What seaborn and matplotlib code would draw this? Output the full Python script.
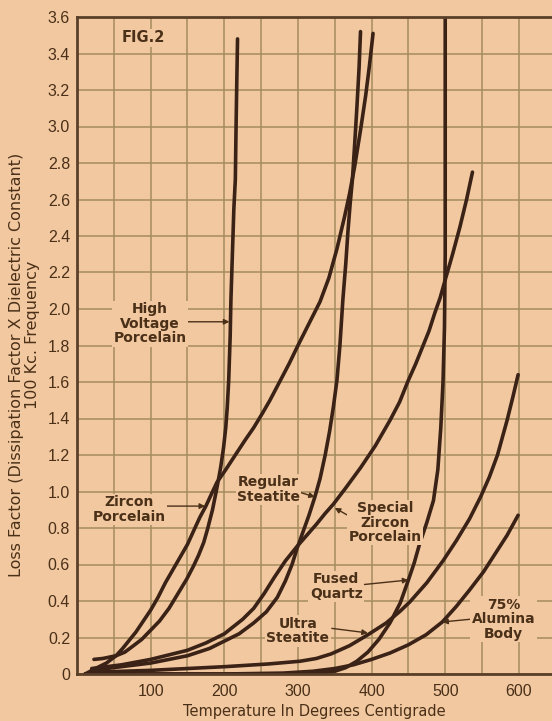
import numpy as np
import pandas as pd
import matplotlib
matplotlib.use("Agg")
import matplotlib.pyplot as plt
import seaborn as sns

# Loss factor (dissipation factor x dielectric constant) at 100 kc vs temperature (deg C)
hv_temp = [23, 35, 53, 65, 75, 88, 100, 112, 125, 137, 149, 158, 165, 172, 177, 184, 190, 195, 199,
           202, 204, 206, 208, 209, 211, 213, 215, 216, 217, 218]
hv_loss = [0.08, 0.085, 0.10, 0.12, 0.15, 0.19, 0.24, 0.29, 0.36, 0.44, 0.52, 0.59, 0.65, 0.72, 0.79,
           0.90, 1.02, 1.13, 1.24, 1.35, 1.46, 1.61, 1.85, 2.05, 2.30, 2.55, 2.71, 3.00, 3.25, 3.48]

zircon_temp = [11, 25, 40, 53, 62, 70, 80, 90, 100, 110, 120, 130, 140, 150, 159, 167, 175, 183, 190,
               202, 215, 228, 240, 252, 262, 275, 288, 300, 315, 330, 342, 353, 363, 370, 377, 385,
               392, 397, 402]
zircon_loss = [0.00, 0.03, 0.06, 0.10, 0.14, 0.18, 0.23, 0.29, 0.35, 0.42, 0.50, 0.57, 0.64, 0.71, 0.79,
               0.86, 0.92, 0.99, 1.05, 1.12, 1.20, 1.28, 1.35, 1.43, 1.50, 1.60, 1.70, 1.80, 1.92, 2.04,
               2.17, 2.33, 2.50, 2.63, 2.78, 2.98, 3.17, 3.33, 3.51]

reg_steatite_temp = [20, 60, 100, 150, 180, 200, 220, 240, 257, 272, 283, 292, 299, 307, 315, 323, 330,
                     337, 343, 348, 353, 357, 361, 365, 368, 371, 374, 377, 380, 383, 385]
reg_steatite_loss = [0.02, 0.04, 0.06, 0.10, 0.14, 0.18, 0.22, 0.28, 0.34, 0.42, 0.51, 0.60, 0.69, 0.78,
                     0.87, 0.97, 1.07, 1.20, 1.33, 1.46, 1.61, 1.80, 2.05, 2.25, 2.43, 2.58, 2.71, 2.90,
                     3.10, 3.32, 3.52]

sp_zircon_temp = [20, 60, 100, 130, 150, 175, 200, 225, 240, 254, 268, 283, 299, 312, 325, 337, 348,
                  365, 385, 405, 425, 438, 450, 460, 469, 478, 486, 493, 500, 510, 520, 529, 537]
sp_zircon_loss = [0.03, 0.05, 0.08, 0.11, 0.13, 0.17, 0.22, 0.30, 0.36, 0.44, 0.53, 0.62, 0.70, 0.76,
                  0.82, 0.88, 0.93, 1.02, 1.13, 1.25, 1.39, 1.49, 1.61, 1.70, 1.79, 1.88, 1.98, 2.06,
                  2.16, 2.30, 2.45, 2.60, 2.75]

quartz_temp = [11, 100, 200, 300, 330, 350, 365, 380, 395, 410, 425, 439, 450, 458, 465, 475, 484, 490,
               494, 497, 499, 500, 500]
quartz_loss = [0.0, 0.0, 0.0, 0.0, 0.005, 0.015, 0.035, 0.07, 0.12, 0.19, 0.28, 0.39, 0.515, 0.61, 0.71,
               0.83, 0.95, 1.12, 1.35, 1.60, 1.90, 2.30, 3.60]

ultra_temp = [25, 100, 200, 260, 303, 325, 345, 370, 395, 420, 439, 452, 475, 497, 515, 533, 548, 560,
              571, 584, 592, 599]
ultra_loss = [0.01, 0.02, 0.04, 0.055, 0.07, 0.085, 0.11, 0.155, 0.215, 0.28, 0.345, 0.395, 0.50, 0.62,
              0.73, 0.85, 0.97, 1.08, 1.20, 1.39, 1.52, 1.64]

alumina_temp = [11, 100, 200, 280, 320, 350, 375, 400, 425, 450, 474, 496, 515, 533, 552, 568, 584, 599]
alumina_loss = [0.0, 0.0, 0.0, 0.005, 0.015, 0.03, 0.05, 0.08, 0.115, 0.16, 0.215, 0.285, 0.37, 0.46,
                0.56, 0.66, 0.76, 0.87]

curves = {
    "High Voltage Porcelain": (hv_temp, hv_loss),
    "Zircon Porcelain": (zircon_temp, zircon_loss),
    "Regular Steatite": (reg_steatite_temp, reg_steatite_loss),
    "Special Zircon Porcelain": (sp_zircon_temp, sp_zircon_loss),
    "Fused Quartz": (quartz_temp, quartz_loss),
    "Ultra Steatite": (ultra_temp, ultra_loss),
    "75% Alumina Body": (alumina_temp, alumina_loss),
}

x_ticks = list(range(0, 601, 50))
x_tick_labels = [str(t) if t % 100 == 0 and t > 0 else "" for t in x_ticks]
y_ticks = [round(0.2 * i, 1) for i in range(19)]
y_tick_labels = ["0"] + [f"{v:.1f}" for v in y_ticks[1:]]

df = pd.concat(
    [pd.DataFrame({"temperature": t, "loss": v, "material": name})
     for name, (t, v) in curves.items()],
    ignore_index=True,
)

BG = "#f2c8a0"
GRID = "#a48c5e"
INK = "#3b2216"
TEXT = "#4a3018"
SPINE = "#5a4028"

sns.set_style("ticks")
plt.rcParams["font.family"] = ["DejaVu Sans"]

fig = plt.figure(figsize=(5.52, 7.21), dpi=100, facecolor=BG)
ax = fig.add_axes([77 / 552, 47 / 721, 475 / 552, 657 / 721], facecolor=BG)

sns.lineplot(
    data=df, x="temperature", y="loss", hue="material",
    palette={m: INK for m in curves}, sort=False, estimator=None,
    linewidth=2.6, legend=False, ax=ax, solid_capstyle="round", solid_joinstyle="round",
)

ax.set_xlim(0, 645)
ax.set_ylim(0, 3.6)
ax.set_xticks(x_ticks)
ax.set_xticklabels(x_tick_labels, fontfamily="Liberation Sans", fontsize=11.5, color=TEXT)
ax.set_yticks(y_ticks)
ax.set_yticklabels(y_tick_labels, fontfamily="Liberation Sans", fontsize=11.5, color=TEXT)
ax.tick_params(axis="x", length=0, pad=7)
ax.tick_params(axis="y", length=0, pad=5)
ax.grid(True, color=GRID, linewidth=1.1)
ax.set_axisbelow(True)

for side in ("left", "bottom", "top"):
    ax.spines[side].set_color(SPINE)
    ax.spines[side].set_linewidth(2.0)
ax.spines["right"].set_visible(False)

ax.set_xlabel("Temperature In Degrees Centigrade", fontsize=10.5, color=TEXT, labelpad=4)
ax.set_ylabel("")
fig.text(17 / 552, 1 - 365 / 721, "Loss Factor (Dissipation Factor X Dielectric Constant)",
         rotation=90, ha="center", va="center", fontsize=11.5, color=TEXT)
fig.text(33 / 552, 1 - 335 / 721, "100 Kc. Frequency",
         rotation=90, ha="center", va="center", fontsize=11.5, color=TEXT)

box = dict(facecolor=BG, edgecolor="none", pad=1.0)
label_kw = dict(ha="center", va="center", fontsize=10, fontweight="bold",
                color=TEXT, linespacing=1.05, multialignment="center", bbox=box, zorder=4)

ax.text(90, 3.485, "FIG.2", ha="center", va="center", fontsize=10.5,
        fontweight="bold", color=TEXT, bbox=box, zorder=4)

labels = [
    ("High\nVoltage\nPorcelain", (99, 1.92), (136, 1.93), (207, 1.93)),
    ("Zircon\nPorcelain", (71, 0.90), (118, 0.92), (174, 0.92)),
    ("Regular\nSteatite", (260, 1.01), (299, 1.00), (323, 0.97)),
    ("Special\nZircon\nPorcelain", (418, 0.83), (385, 0.83), (350, 0.91)),
    ("Fused\nQuartz", (352, 0.48), (389, 0.49), (450, 0.515)),
    ("Ultra\nSteatite", (300, 0.235), (346, 0.25), (395, 0.225)),
    ("75%\nAlumina\nBody", (579, 0.30), (534, 0.30), (496, 0.285)),
]
for text, pos, start, tip in labels:
    ax.annotate("", xy=tip, xytext=start,
                arrowprops=dict(arrowstyle="-|>", color=TEXT, lw=1.0,
                                mutation_scale=8, shrinkA=0, shrinkB=0),
                zorder=3)
    ax.text(pos[0], pos[1], text, **label_kw)

fig.savefig("out.png", dpi=100, facecolor=BG)
